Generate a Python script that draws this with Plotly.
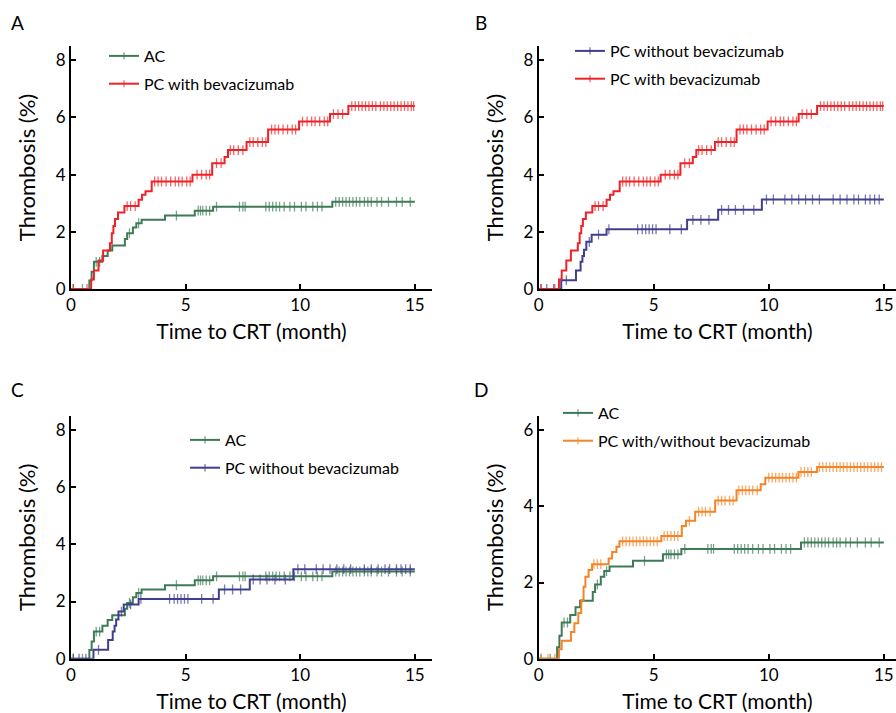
import plotly.graph_objects as go

# ---------------- data ----------------
# AC
ac_t = [0.80, 0.90, 1.00, 1.37, 1.60, 1.80, 2.35, 2.45, 2.70, 2.85, 3.08, 4.10, 5.40, 6.20, 11.40]
ac_v = [0.30, 0.60, 0.95, 1.15, 1.35, 1.52, 1.75, 1.95, 2.15, 2.30, 2.42, 2.57, 2.74, 2.88, 3.05]
ac_c = [0.10, 0.50, 1.10, 1.25, 2.55, 2.95, 4.60, 5.55, 5.65, 5.75, 5.90, 6.05, 6.35, 7.35, 7.50,
        7.60, 8.50, 8.65, 8.80, 8.95, 9.10, 9.30, 9.55, 9.75, 10.05, 10.25, 10.55, 10.75, 10.95,
        11.55, 11.70, 11.85, 12.00, 12.15, 12.30, 12.45, 12.60, 12.80, 12.95, 13.10, 13.35, 13.55,
        13.85, 14.20, 14.45, 14.80]

# PC with bevacizumab
pcw_t = [0.88, 1.00, 1.20, 1.40, 1.70, 1.78, 1.85, 1.92, 2.05, 2.33, 2.95, 3.10, 3.25, 3.52,
         5.30, 6.16, 6.70, 6.85, 7.66, 8.60, 9.95, 11.30, 12.10]
pcw_v = [0.33, 0.65, 1.00, 1.35, 1.60, 1.95, 2.20, 2.45, 2.68, 2.90, 3.12, 3.30, 3.42, 3.76,
         4.00, 4.40, 4.62, 4.86, 5.14, 5.58, 5.86, 6.12, 6.40]
pcw_c = [0.10, 0.70, 2.45, 2.60, 2.80, 3.65, 3.80, 3.95, 4.15, 4.35, 4.55, 4.70, 4.85, 5.05, 5.20,
         5.50, 5.70, 5.90, 6.05, 6.35, 6.55, 6.95, 7.10, 7.30, 7.50, 7.80, 7.95, 8.15, 8.35, 8.50,
         8.75, 8.90, 9.05, 9.25, 9.45, 9.65, 9.80, 10.10, 10.30, 10.50, 10.65, 10.85, 11.05, 11.20,
         11.45, 11.65, 11.85, 12.25, 12.40, 12.55, 12.70, 12.85, 13.00, 13.15, 13.30, 13.50, 13.65,
         13.80, 13.95, 14.10, 14.25, 14.40, 14.55, 14.70, 14.85, 14.95]

# PC without bevacizumab
pcwo_t = [0.98, 1.62, 1.82, 1.90, 1.97, 2.07, 2.30, 2.95, 6.45, 7.80, 9.70]
pcwo_v = [0.31, 0.65, 0.95, 1.15, 1.37, 1.65, 1.90, 2.09, 2.42, 2.77, 3.13]
pcwo_c = [0.10, 0.35, 0.65, 1.20, 2.20, 2.60, 3.05, 4.30, 4.50, 4.65, 4.80, 4.95, 5.10, 5.70, 6.20,
          6.70, 7.05, 7.40, 7.95, 8.25, 8.55, 8.90, 9.35, 9.90, 10.20, 10.70, 11.00, 11.30, 11.60,
          11.90, 12.20, 12.80, 13.10, 13.40, 13.70, 13.90, 14.20, 14.40, 14.60, 14.80]

# PC with/without bevacizumab
pca_t = [0.88, 1.00, 1.40, 1.55, 1.72, 1.85, 1.95, 2.03, 2.17, 2.32, 3.04, 3.19, 3.38, 3.51,
         5.33, 6.22, 6.40, 6.80, 7.67, 8.60, 9.65, 9.85, 11.29, 12.10]
pca_v = [0.25, 0.47, 0.70, 0.93, 1.20, 1.54, 1.89, 2.15, 2.33, 2.48, 2.63, 2.80, 2.94, 3.08,
         3.22, 3.48, 3.62, 3.86, 4.15, 4.42, 4.58, 4.75, 4.90, 5.03]
pca_c = [0.10, 0.40, 0.70, 2.40, 2.55, 2.70, 3.65, 3.80, 3.95, 4.10, 4.25, 4.40, 4.55, 4.70, 4.85,
         5.00, 5.15, 5.45, 5.60, 5.75, 5.90, 6.05, 6.55, 6.95, 7.10, 7.25, 7.45, 7.80, 7.95, 8.10,
         8.30, 8.45, 8.70, 8.85, 9.00, 9.15, 9.30, 9.50, 10.00, 10.15, 10.30, 10.45, 10.60, 10.75,
         10.90, 11.05, 11.20, 11.40, 11.55, 11.70, 11.85, 12.20, 12.35, 12.50, 12.65, 12.80, 12.95,
         13.10, 13.25, 13.40, 13.55, 13.70, 13.85, 14.00, 14.15, 14.30, 14.45, 14.60, 14.75, 14.90]

end_time = 15.0
x_ticks = [0, 5, 10, 15]
panel_labels = ["A", "B", "C", "D"]
x_title = "Time to CRT (month)"
y_title = "Thrombosis (%)"

GREEN = "#3F7A57"
RED = "#EE2328"
BLUE = "#403F8E"
ORANGE = "#F58426"
FONT = "Lato"

W, H = 896, 713


def km_points(ev_t, ev_v, cens):
    pts = [(0.0, 0.0, 0)]
    for t, v in zip(ev_t, ev_v):
        pts.append((t, v, 0))
    for c in cens:
        val = 0.0
        for t, v in zip(ev_t, ev_v):
            if t <= c:
                val = v
        pts.append((c, val, 1))
    pts.append((end_time, ev_v[-1], 0))
    pts.sort(key=lambda p: (p[0], p[2]))
    xs = [p[0] for p in pts]
    ys = [p[1] for p in pts]
    sz = [7 if p[2] else 0 for p in pts]
    return xs, ys, sz


def trace(name, ev_t, ev_v, cens, color, xa, ya, leg, grp):
    xs, ys, sz = km_points(ev_t, ev_v, cens)
    return go.Scatter(
        x=xs, y=ys, name=name, mode="lines+markers",
        line=dict(color=color, width=2, shape="hv"),
        marker=dict(symbol="line-ns-open", size=sz, color=color,
                    line=dict(color=color, width=1.3)),
        xaxis=xa, yaxis=ya, legend=leg, legendgroup=grp,
    )


fig = go.Figure()
fig.add_trace(trace("AC", ac_t, ac_v, ac_c, GREEN, "x", "y", "legend", "a1"))
fig.add_trace(trace("PC with bevacizumab", pcw_t, pcw_v, pcw_c, RED, "x", "y", "legend", "a2"))
fig.add_trace(trace("PC without bevacizumab", pcwo_t, pcwo_v, pcwo_c, BLUE, "x2", "y2", "legend2", "b1"))
fig.add_trace(trace("PC with bevacizumab", pcw_t, pcw_v, pcw_c, RED, "x2", "y2", "legend2", "b2"))
fig.add_trace(trace("AC", ac_t, ac_v, ac_c, GREEN, "x3", "y3", "legend3", "c1"))
fig.add_trace(trace("PC without bevacizumab", pcwo_t, pcwo_v, pcwo_c, BLUE, "x3", "y3", "legend3", "c2"))
fig.add_trace(trace("AC", ac_t, ac_v, ac_c, GREEN, "x4", "y4", "legend4", "d1"))
fig.add_trace(trace("PC with/without bevacizumab", pca_t, pca_v, pca_c, ORANGE, "x4", "y4", "legend4", "d2"))


def px_x(p):
    return p / W


def px_y(p):
    return (H - p) / H


# pixel geometry of the panels
left_cols = [(71, 432, 15.75), (538.7, 896, 15.53)]
rows = [(289, 46), (658.7, 416)]
yranges = [8.5, 8.5, 8.49, 6.37]

axis_common = dict(
    showline=True, linecolor="black", linewidth=2, ticks="inside", ticklen=5,
    tickwidth=1.5, tickcolor="black", showgrid=False, zeroline=False,
    tickfont=dict(family=FONT, size=17, color="black"), automargin=False,
)

layout = dict(width=W, height=H, margin=dict(l=0, r=0, t=0, b=0),
              plot_bgcolor="white", paper_bgcolor="white",
              font=dict(family=FONT, color="black"))

for i in range(4):
    r, c = divmod(i, 2)
    x0, x1, xr = left_cols[c]
    y0, y1 = rows[r]
    sfx = "" if i == 0 else str(i + 1)
    layout["xaxis" + sfx] = dict(
        axis_common, domain=[px_x(x0), px_x(x1)], range=[0, xr],
        tickvals=x_ticks, anchor="y" + sfx,
        title=dict(text=x_title, font=dict(family=FONT, size=21), standoff=10),
    )
    ymax = yranges[i]
    ytick = [0, 2, 4, 6, 8] if i != 3 else [0, 2, 4, 6]
    layout["yaxis" + sfx] = dict(
        axis_common, domain=[px_y(y0), px_y(y1)], range=[0, ymax],
        tickvals=ytick, anchor="x" + sfx,
        title=dict(text=y_title, font=dict(family=FONT, size=22), standoff=14),
    )

leg_pos = [(104, 39), (570, 34), (185, 423), (558, 396)]
for i, (lx, ly) in enumerate(leg_pos):
    key = "legend" if i == 0 else "legend" + str(i + 1)
    layout[key] = dict(
        x=px_x(lx), y=px_y(ly), xanchor="left", yanchor="top",
        bgcolor="rgba(0,0,0,0)", font=dict(family=FONT, size=16, color="black"),
        itemwidth=30, tracegroupgap=4,
    )

fig.update_layout(**layout)

label_pos = [(17, 22), (481, 22), (17, 390), (481, 390)]
for lab, (lx, ly) in zip(panel_labels, label_pos):
    fig.add_annotation(text=lab, x=px_x(lx), y=px_y(ly), xref="paper", yref="paper",
                       xanchor="center", yanchor="middle",
                       showarrow=False, font=dict(family=FONT, size=19, color="black"))

fig.write_html("out.html", config={"displayModeBar": False},
               post_script="document.body.style.margin='0px';document.body.style.overflow='hidden';")
